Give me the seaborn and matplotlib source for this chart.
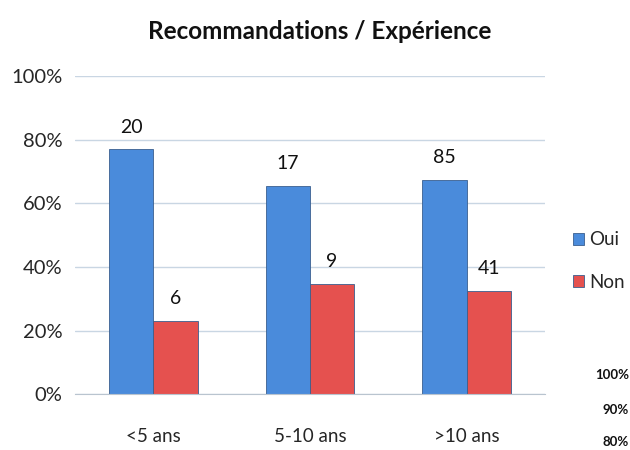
import pandas as pd
import matplotlib.pyplot as plt
import seaborn as sns

# data
categories = ["<5 ans", "5-10 ans", ">10 ans"]
oui_counts = [20, 17, 85]
non_counts = [6, 9, 41]

rows = []
for cat, o, n in zip(categories, oui_counts, non_counts):
    total = o + n
    rows.append({"exp": cat, "rep": "Oui", "pct": o / total * 100, "n": o})
    rows.append({"exp": cat, "rep": "Non", "pct": n / total * 100, "n": n})
df = pd.DataFrame(rows)

sns.set_style("white")
plt.rcParams["font.family"] = ["Lato", "DejaVu Sans"]

fig = plt.figure(figsize=(6.3, 4.5), dpi=100)
ax = fig.add_axes([0.119, 0.124, 0.746, 0.707])

palette = {"Oui": "#4A8BDB", "Non": "#E5514F"}
sns.barplot(data=df, x="exp", y="pct", hue="rep", palette=palette,
            width=0.565, edgecolor="#3a5f8f", linewidth=0.6, ax=ax,
            saturation=1)

for cont, vals in zip(ax.containers, [oui_counts, non_counts]):
    ax.bar_label(cont, labels=[str(v) for v in vals], padding=10,
                 fontsize=14, color="#111111")

ax.set_ylim(0, 100)
ax.set_xlim(-0.5, 2.5)
ax.set_yticks(range(0, 101, 20))
ax.set_yticklabels([f"{v}%" for v in range(0, 101, 20)], fontsize=14.5)
ax.tick_params(axis="x", labelsize=13.5, pad=24, length=0)
ax.tick_params(axis="y", length=0, pad=9)
ax.yaxis.grid(True, color="#c9d6e3", linewidth=1)
ax.set_axisbelow(True)
for s in ["top", "right", "left"]:
    ax.spines[s].set_visible(False)
ax.spines["bottom"].set_color("#b9c4cf")
ax.set_xlabel("")
ax.set_ylabel("")

ax.legend(loc="center left", bbox_to_anchor=(0.897, 0.42),
          bbox_transform=fig.transFigure, frameon=False, fontsize=13.5,
          handlelength=0.6, handleheight=0.6, handletextpad=0.3,
          labelspacing=1.35, borderaxespad=0)

fig.suptitle("Recommandations / Expérience", x=0.508, y=0.955,
             fontsize=17.5, fontweight="bold", color="#111111")

# labels of another chart peeking in at bottom right
for txt, yy in [("100%", 0.167), ("90%", 0.088), ("80%", 0.018)]:
    fig.text(0.998, yy, txt, ha="right", va="center", fontsize=9.5,
             fontweight="bold", color="#111111")

fig.savefig("out.png", dpi=100, facecolor="white")
